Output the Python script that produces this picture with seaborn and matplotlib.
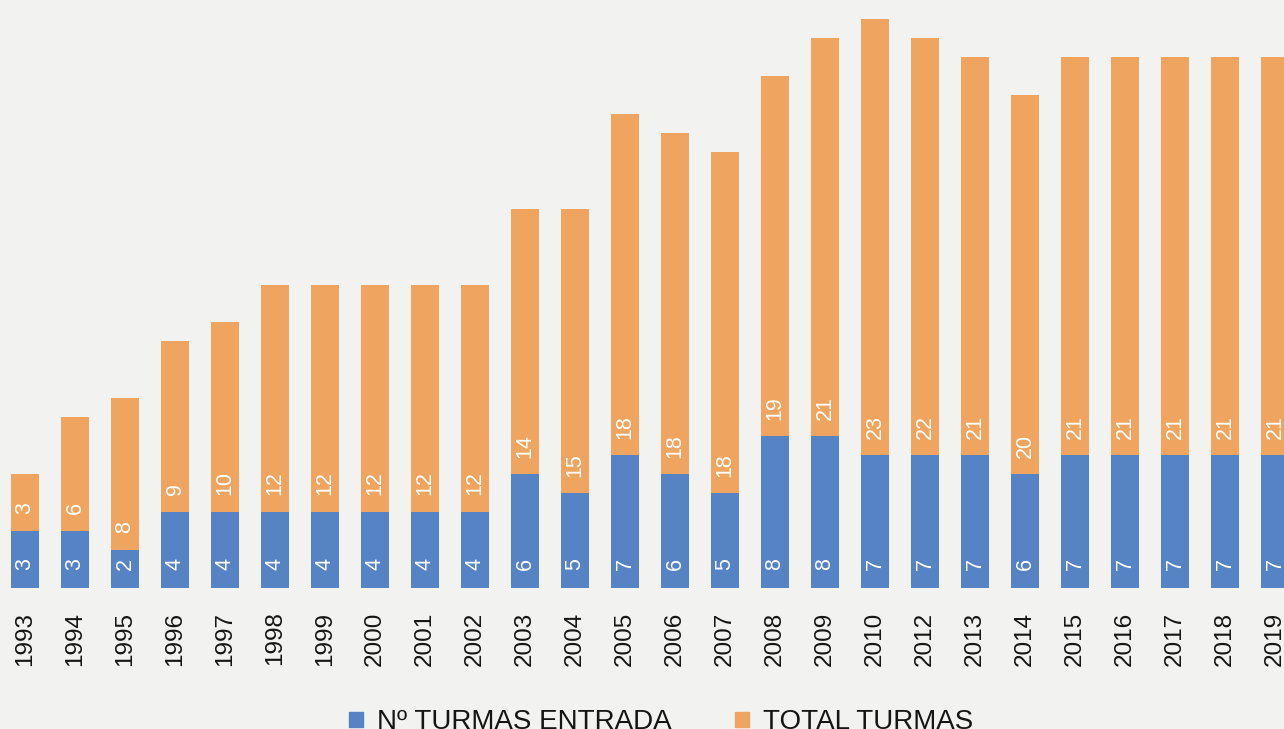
import pandas as pd
import matplotlib.pyplot as plt
import seaborn as sns
from matplotlib.patches import Patch

years = ['1993', '1994', '1995', '1996', '1997', '1998', '1999', '2000', '2001',
         '2002', '2003', '2004', '2005', '2006', '2007', '2008', '2009', '2010',
         '2012', '2013', '2014', '2015', '2016', '2017', '2018', '2019']
entrada = [3, 3, 2, 4, 4, 4, 4, 4, 4, 4, 6, 5, 7, 6, 5, 8, 8, 7, 7, 7, 6, 7, 7, 7, 7, 7]
total = [3, 6, 8, 9, 10, 12, 12, 12, 12, 12, 14, 15, 18, 18, 18, 19, 21, 23, 22, 21, 20, 21, 21, 21, 21, 21]

blue = '#5683c3'
orange = '#efa45f'
bg = '#f2f2f1'

df = pd.DataFrame({'ano': years, 'entrada': entrada, 'total': total})
df['stack'] = df['entrada'] + df['total']

sns.set_style('white')
plt.rcParams['font.family'] = ['Liberation Sans', 'DejaVu Sans']

fig = plt.figure(figsize=(12.84, 7.29), dpi=100, facecolor=bg)
ax = fig.add_axes([0, 0.1934, 1, 0.8066])
ax.set_facecolor(bg)

sns.barplot(data=df, x='ano', y='stack', color=orange, width=0.56, saturation=1,
            linewidth=0, edgecolor='none', ax=ax)
sns.barplot(data=df, x='ano', y='entrada', color=blue, width=0.56, saturation=1,
            linewidth=0, edgecolor='none', ax=ax)

# value labels, rotated like the original
for i, row in df.iterrows():
    ax.annotate(str(row['entrada']), (i, 0), xytext=(0, 13), textcoords='offset points',
                rotation=90, ha='center', va='bottom', color='white', fontsize=15.5)
    ax.annotate(str(row['total']), (i, row['entrada']), xytext=(0, 12), textcoords='offset points',
                rotation=90, ha='center', va='bottom', color='white', fontsize=15.5)

ax.set_xlim(-0.5, 25.18)
ax.set_ylim(0, 31)
ax.set_xlabel('')
ax.set_ylabel('')
ax.set_yticks([])
ax.tick_params(axis='x', length=0, pad=17, labelsize=17.5, labelcolor='#151515')
plt.setp(ax.get_xticklabels(), rotation=90, va='top')
sns.despine(ax=ax, left=True, bottom=True)

handles = [Patch(color=blue, label='Nº TURMAS ENTRADA'),
           Patch(color=orange, label='TOTAL TURMAS')]
fig.legend(handles=handles, loc='center', bbox_to_anchor=(0.515, 0.009), ncol=2,
           frameon=False, fontsize=20, handlelength=0.5, handleheight=0.5,
           handletextpad=0.5, columnspacing=2.3, labelcolor='#151515')

fig.savefig('out.png', dpi=100, facecolor=bg)
